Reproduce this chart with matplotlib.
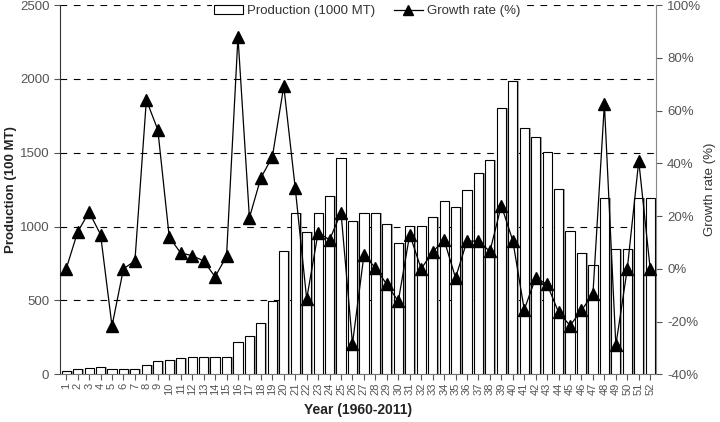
import matplotlib
matplotlib.use('Agg')
import matplotlib.pyplot as plt
from matplotlib.lines import Line2D
from matplotlib.patches import Patch
import numpy as np

plt.rcParams['font.family'] = ['Liberation Sans', 'DejaVu Sans']

years = list(range(1, 53))

# production (100 MT)
production = [25, 35, 40, 50, 35, 35, 35, 60, 90, 100,
              110, 115, 115, 115, 115, 220, 260, 350, 495, 835,
              1095, 966, 1095, 1205, 1466, 1040, 1095, 1095, 1020, 887,
              1005, 1005, 1068, 1173, 1133, 1248, 1365, 1453, 1800, 1985,
              1671, 1606, 1502, 1252, 973, 818, 739, 1196, 847, 847,
              1196, 1196]

# growth rate (%)
growth = [0, 14, 21.5, 13, -21.7, 0, 3, 64, 52.7, 12,
          6, 5, 3, -3, 4.7, 88, 19.4, 34.5, 42.4, 69.3,
          30.7, -11.4, 13.7, 11, 21.3, -28.4, 5.2, 0.4, -5.9, -12.3,
          13, 0, 6.4, 11, -3.4, 10.5, 10.5, 6.6, 24, 10.7,
          -15.5, -3.4, -5.9, -16.5, -21.5, -15.8, -9.4, 62.5, -29, 0,
          40.9, 0]

fig = plt.figure(figsize=(7.2, 4.22), dpi=100)
ax = fig.add_axes([0.084, 0.113, 0.827, 0.875])
ax2 = ax.twinx()

x = np.array(years)
w = 0.8
# grey shadow to the right of each bar
ax.bar(x + 0.15, production, width=w, color='#a8a8a8', edgecolor='none', zorder=2)
ax.bar(x, production, width=w, color='white', edgecolor='black', linewidth=0.8, zorder=3)

for yv in [500, 1000, 1500, 2000, 2500]:
    ax.axhline(yv, color='black', linestyle=(0, (6, 6)), linewidth=0.8, zorder=1)

ax.set_xlim(0.5, 52.5)
ax.set_ylim(0, 2500)
ax.set_yticks([0, 500, 1000, 1500, 2000, 2500])
ax.set_xticks(years)
ax.set_xticklabels([str(y) for y in years], rotation=90)
ax.tick_params(axis='y', colors='#555555', labelsize=9.5, length=4, pad=4)
ax.tick_params(axis='x', colors='#555555', labelsize=8, length=4, pad=2)
ax.set_ylabel('Production (100 MT)', fontsize=9.5, fontweight='bold', color='#222222', labelpad=2)
ax.set_xlabel('Year (1960-2011)', fontsize=10, fontweight='bold', color='#222222', labelpad=6)
ax.spines['top'].set_visible(False)
ax.spines['right'].set_visible(False)
ax.spines['left'].set_color('#333333')
ax.spines['bottom'].set_color('#777777')

ax2.plot(x, growth, color='black', linewidth=0.9, marker='^', markersize=8,
         markerfacecolor='black', zorder=5)
ax2.set_ylim(-40, 100)
ax2.set_yticks([-40, -20, 0, 20, 40, 60, 80, 100])
ax2.set_yticklabels([f'{t}%' for t in [-40, -20, 0, 20, 40, 60, 80, 100]])
ax2.tick_params(axis='y', colors='#555555', labelsize=9.5, length=4, pad=4)
ax2.set_ylabel('Growth rate (%)', fontsize=9.5, color='#333333', labelpad=2)
ax2.spines['top'].set_visible(False)
ax2.spines['left'].set_visible(False)
ax2.spines['bottom'].set_visible(False)
ax2.spines['right'].set_color('#888888')

handles = [Patch(facecolor='white', edgecolor='black', linewidth=0.8),
           Line2D([0], [0], color='black', linewidth=0.9, marker='^', markersize=7)]
leg = ax2.legend(handles, ['Production (1000 MT)', 'Growth rate (%)'], loc='upper center',
                 bbox_to_anchor=(0.515, 1.025), ncol=2, frameon=True, fontsize=9.5,
                 handlelength=2.2, columnspacing=1.4, borderpad=0.2, handletextpad=0.3)
leg.get_frame().set_edgecolor('none')
leg.get_frame().set_facecolor('white')
leg.get_frame().set_alpha(1)
for t in leg.get_texts():
    t.set_color('#333333')

fig.savefig('out.png', dpi=100)
